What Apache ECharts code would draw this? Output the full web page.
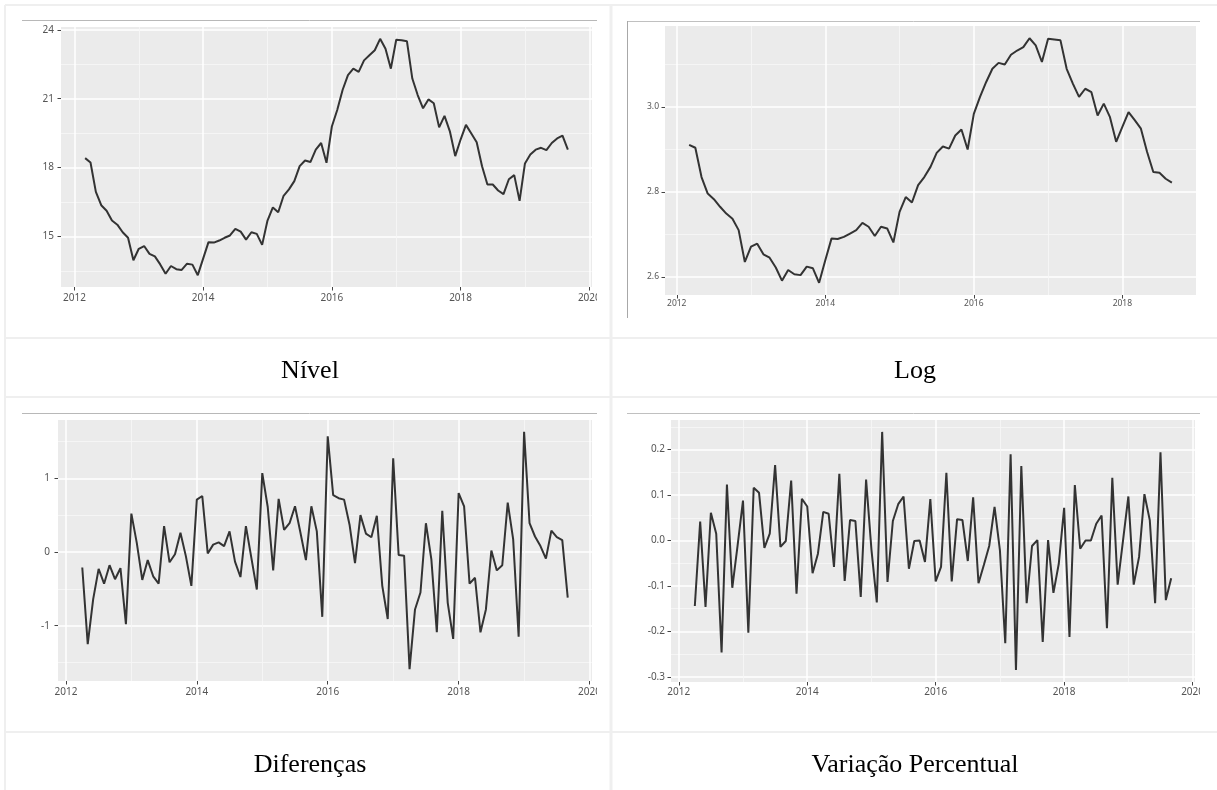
<!DOCTYPE html>
<html>
<head>
<meta charset="utf-8">
<script src="https://cdn.jsdelivr.net/npm/echarts@6/dist/echarts.min.js"></script>
<style>
html,body{margin:0;padding:0;background:#fff;}
#chart{width:1217px;height:790px;}
</style>
</head>
<body>
<div id="chart"></div>
<script>
// ---------- data ----------
const inicioNivel = [2012, 3];   // first month (year, month)
const nivel = [18.41,18.22,16.94,16.36,16.12,15.69,15.51,15.18,14.94,13.96,
  14.46,14.58,14.24,14.13,13.78,13.37,13.71,13.57,13.54,13.81,13.77,13.31,
  14.03,14.75,14.73,14.82,14.94,15.04,15.33,15.21,14.86,15.18,15.11,14.63,
  15.69,16.26,16.05,16.77,17.05,17.41,18.06,18.31,18.24,18.78,19.07,18.21,
  19.79,20.51,21.38,22.03,22.31,22.17,22.67,22.89,23.11,23.61,23.18,22.31,
  23.57,23.55,23.50,21.88,21.16,20.58,20.97,20.80,19.75,20.25,19.58,18.50,
  19.22,19.86,19.48,19.10,18.06,17.26,17.26,17.00,16.84,17.49,17.67,16.55,
  18.18,18.57,18.78,18.86,18.76,19.07,19.27,19.39,18.78];

const inicioLog = [2012, 3];
const logNivel = [2.911,2.904,2.835,2.796,2.783,2.765,2.749,2.737,2.710,2.635,
  2.671,2.678,2.653,2.645,2.622,2.591,2.616,2.606,2.604,2.624,2.620,2.586,
  2.639,2.690,2.689,2.694,2.702,2.710,2.727,2.718,2.696,2.718,2.714,2.681,
  2.753,2.788,2.775,2.816,2.835,2.859,2.892,2.907,2.902,2.933,2.947,2.900,
  2.984,3.024,3.059,3.090,3.104,3.100,3.123,3.133,3.141,3.162,3.145,3.106,
  3.161,3.159,3.157,3.090,3.055,3.024,3.043,3.035,2.980,3.008,2.976,2.918,
  2.953,2.988,2.969,2.949,2.894,2.847,2.845,2.831,2.822];

const inicioDif = [2012, 4];
const diferencas = [-0.21,-1.25,-0.64,-0.23,-0.43,-0.18,-0.37,-0.22,-0.98,
  0.52,0.12,-0.38,-0.11,-0.33,-0.43,0.35,-0.14,-0.03,0.26,-0.06,-0.46,
  0.71,0.76,-0.02,0.10,0.13,0.08,0.28,-0.13,-0.34,0.35,-0.08,-0.51,
  1.07,0.61,-0.25,0.72,0.30,0.39,0.62,0.26,-0.11,0.62,0.28,-0.88,
  1.57,0.77,0.73,0.71,0.37,-0.15,0.50,0.25,0.20,0.49,-0.46,-0.91,
  1.27,-0.04,-0.05,-1.59,-0.78,-0.55,0.39,-0.10,-1.09,0.56,-0.69,-1.18,
  0.80,0.62,-0.43,-0.35,-1.09,-0.78,0.02,-0.25,-0.18,0.67,0.17,-1.15,
  1.63,0.39,0.21,0.08,-0.09,0.29,0.20,0.16,-0.62];

const inicioVar = [2012, 4];
const variacao = [-0.144,0.042,-0.146,0.061,0.015,-0.246,0.123,-0.104,-0.010,
  0.088,-0.203,0.116,0.105,-0.016,0.015,0.166,-0.014,-0.001,0.132,-0.117,
  0.092,0.075,-0.072,-0.029,0.063,0.059,-0.058,0.147,-0.089,0.045,0.043,
  -0.124,0.134,-0.020,-0.136,0.239,-0.091,0.043,0.080,0.097,-0.062,-0.001,
  0.000,-0.047,0.091,-0.090,-0.058,0.149,-0.090,0.047,0.045,-0.045,0.095,
  -0.094,-0.054,-0.012,0.074,-0.021,-0.226,0.190,-0.285,0.164,-0.138,-0.012,
  0.001,-0.223,0.001,-0.115,-0.051,0.072,-0.212,0.122,-0.018,0.000,0.000,
  0.037,0.055,-0.193,0.138,-0.097,0.000,0.097,-0.097,-0.036,0.102,0.045,
  -0.138,0.194,-0.131,-0.083];

// ---------- tick labels ----------
const anosTicks = [2012, 2014, 2016, 2018, 2020];
const anosMinor = [2013, 2015, 2017, 2019];
const ticksNivel = [15, 18, 21, 24];
const minorNivel = [13.5, 16.5, 19.5, 22.5];
const ticksLog = [2.6, 2.8, 3.0];
const minorLog = [2.7, 2.9, 3.1];
const ticksDif = [-1, 0, 1];
const minorDif = [-1.5, -0.5, 0.5, 1.5];
const ticksVar = [-0.3, -0.2, -0.1, 0.0, 0.1, 0.2];
const minorVar = [-0.25, -0.15, -0.05, 0.05, 0.15, 0.25];
const titulos = ['Nível', 'Log', 'Diferenças', 'Variação Percentual'];

// ---------- helpers ----------
function pares(inicio, vals) {
  return vals.map((v, i) => [inicio[0] + (inicio[1] - 1 + i) / 12, v]);
}
function expandir(arr) { // ggplot default 5% expansion
  const mn = Math.min.apply(null, arr), mx = Math.max.apply(null, arr);
  const d = (mx - mn) * 0.05;
  return [mn - d, mx + d];
}

const paineis = [
  { serie: pares(inicioNivel, nivel), yt: ticksNivel, ym: minorNivel, fmt: v => String(v),
    grid: {left: 61, top: 27, width: 531, height: 260}, fs: 10, xm: 6, ymg: 7 },
  { serie: pares(inicioLog, logNivel), yt: ticksLog, ym: minorLog, fmt: v => v.toFixed(1),
    grid: {left: 665, top: 26, width: 531, height: 269}, fs: 8.5, xm: 4, ymg: 6 },
  { serie: pares(inicioDif, diferencas), yt: ticksDif, ym: minorDif, fmt: v => String(v),
    grid: {left: 58, top: 420, width: 534, height: 261}, fs: 10, xm: 6, ymg: 8 },
  { serie: pares(inicioVar, variacao), yt: ticksVar, ym: minorVar, fmt: v => v.toFixed(1),
    grid: {left: 671, top: 420, width: 524, height: 262}, fs: 10, xm: 5, ymg: 6 }
];

const grids = [], xAxes = [], yAxes = [], series = [];
const labelColor = '#555555';
const tickStyle = { show: true, length: 3.5, inside: false, lineStyle: { color: '#444', width: 1 } };

paineis.forEach((p, i) => {
  grids.push(Object.assign({ show: true, backgroundColor: '#EBEBEB', borderWidth: 0 }, p.grid));
  const xr = expandir(p.serie.map(d => d[0]));
  const yr = expandir(p.serie.map(d => d[1]));
  // major x axis
  xAxes.push({
    type: 'value', gridIndex: i, min: xr[0], max: xr[1], position: 'bottom',
    axisLine: { show: false, onZero: false },
    axisTick: Object.assign({ customValues: anosTicks }, tickStyle),
    axisLabel: { customValues: anosTicks, color: labelColor, fontSize: p.fs, margin: p.xm,
      fontFamily: 'Noto Sans', formatter: v => String(Math.round(v)) },
    splitLine: { show: true, lineStyle: { color: '#FFFFFF', width: 1.5 } }
  });
  // minor x axis (grid only)
  xAxes.push({
    type: 'value', gridIndex: i, min: xr[0], max: xr[1], position: 'top',
    axisLine: { show: false, onZero: false },
    axisTick: { show: false, customValues: anosMinor },
    axisLabel: { show: false },
    splitLine: { show: true, lineStyle: { color: '#F6F6F6', width: 0.9 } }
  });
  yAxes.push({
    type: 'value', gridIndex: i, min: yr[0], max: yr[1], position: 'left',
    axisLine: { show: false, onZero: false },
    axisTick: Object.assign({ customValues: p.yt }, tickStyle),
    axisLabel: { customValues: p.yt, color: labelColor, fontSize: p.fs, margin: p.ymg,
      fontFamily: 'Noto Sans', formatter: p.fmt },
    splitLine: { show: true, lineStyle: { color: '#FFFFFF', width: 1.5 } }
  });
  yAxes.push({
    type: 'value', gridIndex: i, min: yr[0], max: yr[1], position: 'right',
    axisLine: { show: false, onZero: false },
    axisTick: { show: false, customValues: p.ym },
    axisLabel: { show: false },
    splitLine: { show: true, lineStyle: { color: '#F6F6F6', width: 0.9 } }
  });
  series.push({
    type: 'line', xAxisIndex: 2 * i, yAxisIndex: 2 * i, data: p.serie,
    showSymbol: false, symbol: 'none', smooth: false,
    lineStyle: { color: '#333333', width: 2 }, z: 5
  });
});

// ---------- decoration: table borders, screenshot edges, captions ----------
const borda = '#EFEFEF';
function linha(x1, y1, x2, y2, cor, w, z) {
  return { type: 'line', z: z || 50, silent: true, shape: { x1, y1, x2, y2 }, style: { stroke: cor, lineWidth: w } };
}
const graphic = [
  linha(5, 5, 1217, 5, borda, 2),
  linha(5, 5, 5, 790, borda, 2),
  linha(611, 5, 611, 790, borda, 3),
  linha(5, 338, 1217, 338, borda, 2),
  linha(5, 397, 1217, 397, borda, 2),
  linha(5, 732, 1217, 732, borda, 2),
  // screenshot top edges
  linha(22, 20.5, 597, 20.5, '#B8B8B8', 1),
  linha(627, 21.5, 1200, 21.5, '#C0C0C0', 1),
  linha(627.5, 21, 627.5, 318, '#A8A8A8', 1),
  linha(22, 413.5, 597, 413.5, '#B8B8B8', 1),
  linha(627, 413.5, 1200, 413.5, '#C0C0C0', 1),
  // crop of the screenshots (cut last tick label)
  { type: 'rect', z: 40, silent: true, shape: { x: 597, y: 289, width: 12, height: 20 }, style: { fill: '#fff' } },
  { type: 'rect', z: 40, silent: true, shape: { x: 597, y: 683, width: 12, height: 20 }, style: { fill: '#fff' } },
  { type: 'rect', z: 40, silent: true, shape: { x: 1200, y: 684, width: 17, height: 20 }, style: { fill: '#fff' } }
];
const capPos = [[310, 371], [915, 371], [310, 765], [915, 765]];
titulos.forEach((t, i) => {
  graphic.push({ type: 'text', z: 60, silent: true, x: capPos[i][0], y: capPos[i][1],
    style: { text: t, align: 'center', verticalAlign: 'middle', fill: '#000',
      fontSize: 26, fontFamily: '"Liberation Serif", "Times New Roman", serif' } });
});

const chart = echarts.init(document.getElementById('chart'), null, { renderer: 'canvas' });
chart.setOption({
  animation: false,
  backgroundColor: '#ffffff',
  grid: grids,
  xAxis: xAxes,
  yAxis: yAxes,
  series: series,
  graphic: graphic
});
</script>
</body>
</html>
